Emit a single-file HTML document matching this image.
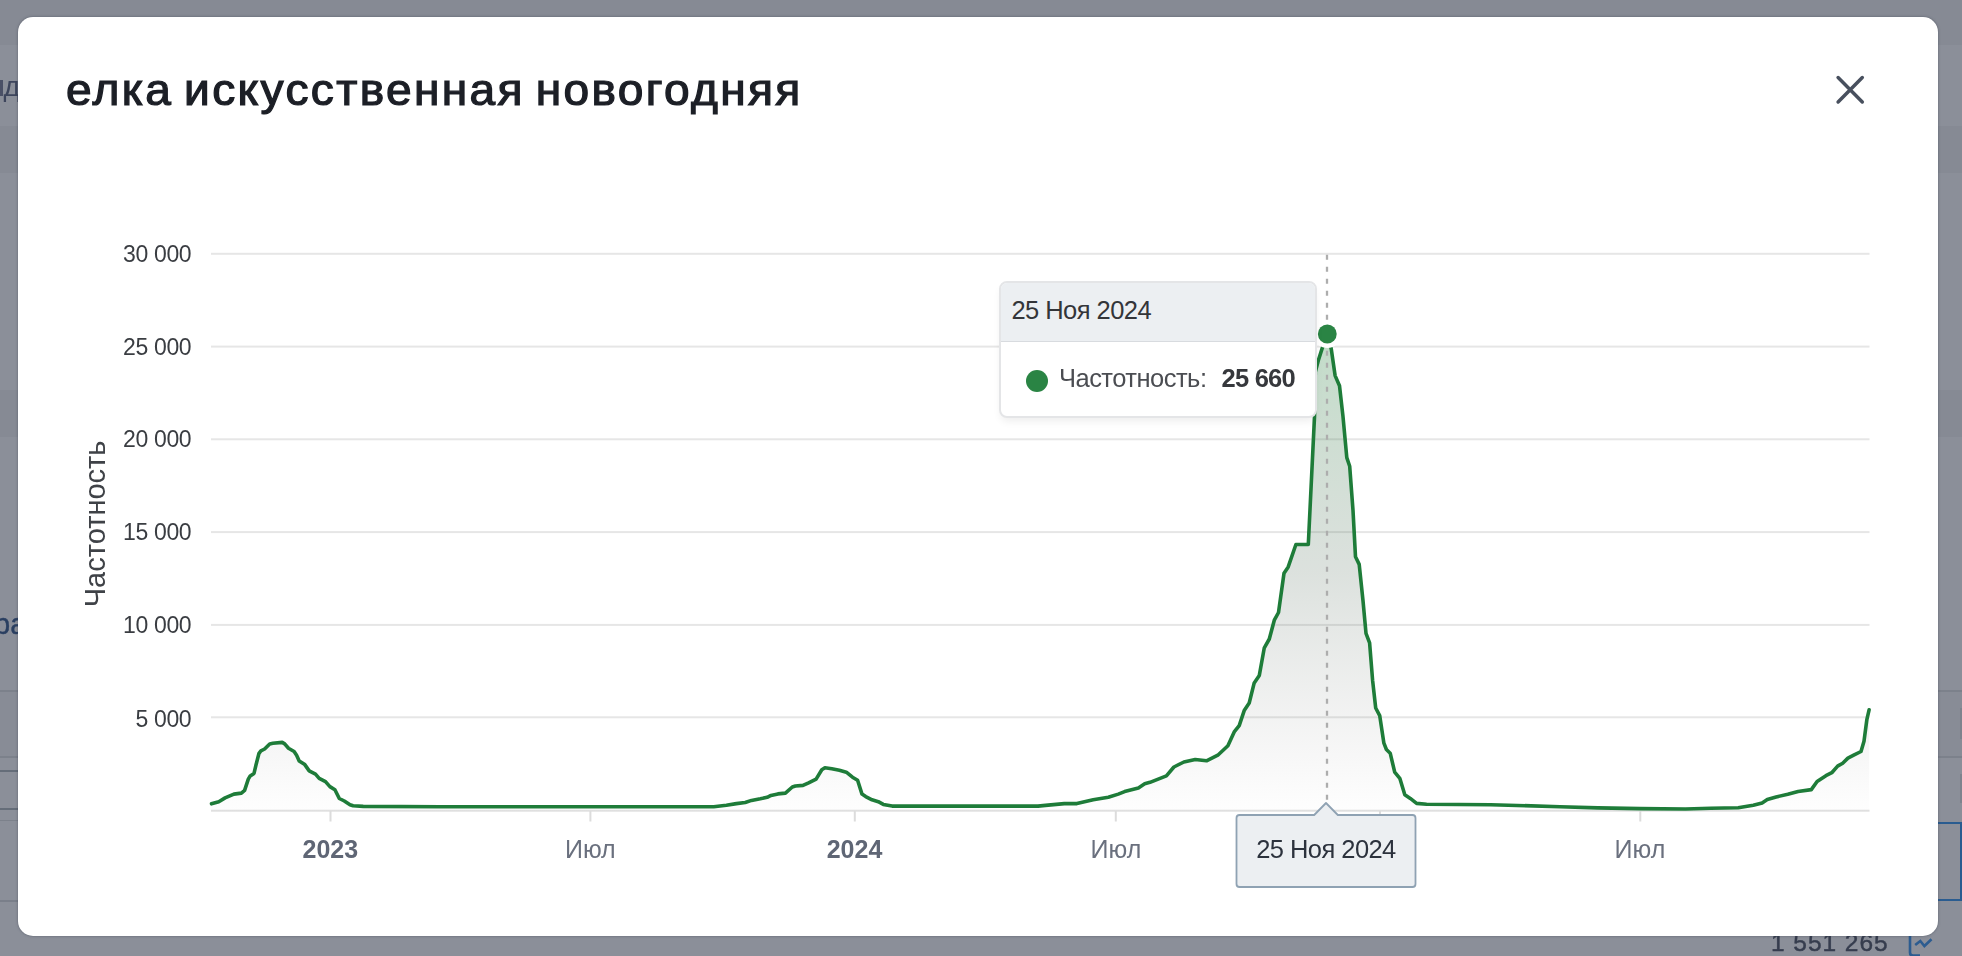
<!DOCTYPE html>
<html lang="ru"><head><meta charset="utf-8"><title>chart</title>
<style>
html,body{margin:0;padding:0;background:#8b8f99}
body{width:1962px;height:956px;overflow:hidden;position:relative;background:#8b8f99;font-family:"Liberation Sans",sans-serif}
.bg{position:absolute;left:0;width:1962px}
.modal{position:absolute;left:17.7px;top:17.4px;width:1920.3px;height:918.8px;background:#fff;border-radius:15px;box-shadow:0 0 2.5px rgba(45,52,70,.55)}
.title{position:absolute;left:65.6px;top:62.0px;font-size:43.5px;line-height:56px;color:#1c1f26;white-space:nowrap;font-weight:normal;-webkit-text-stroke:1.2px #1c1f26;letter-spacing:2.2px;word-spacing:-4.0px;transform-origin:0 0;transform:scaleX(1.06)}
svg.chart{position:absolute;left:0;top:0}
.yl{font-size:23px;letter-spacing:-0.35px;fill:#3a3d42;font-family:"Liberation Sans",sans-serif}
.xl{font-size:25px;fill:#6a707e;font-family:"Liberation Sans",sans-serif}
.xl.b{font-weight:bold;fill:#5f6675}
.tt{position:absolute;left:999px;top:280.5px;width:318px;height:137.2px;background:#fff;border:2px solid #e4e5e7;border-radius:8px;box-sizing:border-box;box-shadow:0 5px 8px -2px rgba(0,0,0,.075);overflow:hidden}
.tt .h{height:59.5px;background:#eceff2;border-bottom:1.5px solid #d8dbdf;box-sizing:border-box;font-size:25.5px;color:#333539;line-height:54px;padding-left:10.5px;letter-spacing:-0.56px}
.tt .b{position:relative;height:75px}
.tt .dot{position:absolute;left:24.6px;top:28.2px;width:22px;height:22px;border-radius:50%;background:#2a8444}
.tt .n{position:absolute;left:58px;top:21px;font-size:25.5px;line-height:30px;color:#4b4d52;white-space:nowrap;letter-spacing:-0.52px}
.tt .v{position:absolute;left:220.6px;top:21px;font-size:25.5px;line-height:30px;color:#36383c;font-weight:bold;white-space:nowrap;letter-spacing:-0.8px}
#w{position:absolute;left:0;top:0;width:1962px;height:956px;overflow:hidden;filter:blur(0.65px)}
</style></head><body><div id="w">
<!-- backdrop bands -->
<div class="bg" style="top:0;height:45.2px;background:#868a94"></div>
<div class="bg" style="top:125.7px;height:47.6px;background:#868a94"></div>
<div class="bg" style="top:389.5px;height:47.5px;background:#868a94"></div>
<div class="bg" style="top:691px;height:66px;background:#888c96"></div>
<div class="bg" style="top:690.2px;height:1.6px;background:#7c818b"></div>
<div class="bg" style="top:756.2px;height:1.6px;background:#7c818b"></div>
<div class="bg" style="top:769.7px;height:2.2px;background:#656d79;width:20px"></div>
<div class="bg" style="top:807.9px;height:2.2px;background:#656d79;width:20px"></div>
<div class="bg" style="top:819.7px;height:1.6px;background:#7c818b;width:20px"></div>
<div class="bg" style="top:900px;height:1.8px;background:#7a7f8a;width:20px"></div>
<div style="position:absolute;left:0;top:80px;width:2.5px;height:15.5px;background:#4a5066"></div>
<div style="position:absolute;left:3.6px;top:70.7px;font-size:28.5px;color:#3d455c;line-height:30px">д</div>
<div style="position:absolute;left:-6px;top:608.8px;font-size:29px;color:#2a3f61;-webkit-text-stroke:0.4px #2a3f61;line-height:30px;white-space:nowrap">ра</div>
<div style="position:absolute;left:1930px;top:821.6px;width:32px;height:79px;border:2.7px solid #2a5c90;box-sizing:border-box"></div>
<div style="position:absolute;left:1959.5px;top:708px;width:3px;height:31px;background:#7e838d"></div>
<div style="position:absolute;left:1959.5px;top:774px;width:3px;height:29px;background:#7e838d"></div>
<div style="position:absolute;left:1771px;top:928px;font-size:24.5px;color:#363d4e;-webkit-text-stroke:0.45px #363d4e;line-height:30px;white-space:nowrap;letter-spacing:0.95px">1 551 265</div>
<svg style="position:absolute;left:1906px;top:930px" width="32" height="26" viewBox="0 0 32 26"><path d="M4 0 V22.5 Q4 25.6 7 25.6 H14" fill="none" stroke="#2c5c90" stroke-width="2.6"/><path d="M9.2 15 L14.3 11 L18.4 16 L25.5 9.2" fill="none" stroke="#2c5c90" stroke-width="2.6"/></svg>

<div class="modal"></div>
<div class="title">елка искусственная новогодняя</div>
<svg class="chart" width="1962" height="956" viewBox="0 0 1962 956">
<defs>
<linearGradient id="ag" gradientUnits="userSpaceOnUse" x1="0" y1="334" x2="0" y2="810">
<stop offset="0" stop-color="#1b7c34" stop-opacity="0.27"/>
<stop offset="0.5" stop-color="#506a57" stop-opacity="0.20"/>
<stop offset="0.9" stop-color="#707070" stop-opacity="0.05"/>
<stop offset="1" stop-color="#808080" stop-opacity="0.01"/>
</linearGradient>
</defs>
<!-- close -->
<path d="M1838.1 77.6 L1862.3 101.9 M1862.3 77.6 L1838.1 101.9" stroke="#48505e" stroke-width="3.5" stroke-linecap="round" fill="none"/>
<rect x="211" y="252.8" width="1658.5" height="2" fill="#e6e6e6"/><rect x="211" y="345.6" width="1658.5" height="2" fill="#e6e6e6"/><rect x="211" y="438.3" width="1658.5" height="2" fill="#e6e6e6"/><rect x="211" y="531.1" width="1658.5" height="2" fill="#e6e6e6"/><rect x="211" y="623.9" width="1658.5" height="2" fill="#e6e6e6"/><rect x="211" y="716.3" width="1658.5" height="2" fill="#e6e6e6"/>
<rect x="211" y="809.7" width="1658.5" height="2" fill="#e0e0e0"/>
<rect x="329.5" y="811" width="2" height="10.5" fill="#dcdcdc"/><rect x="589.4" y="811" width="2" height="10.5" fill="#dcdcdc"/><rect x="853.8" y="811" width="2" height="10.5" fill="#dcdcdc"/><rect x="1114.8" y="811" width="2" height="10.5" fill="#dcdcdc"/><rect x="1379.0" y="811" width="2" height="10.5" fill="#dcdcdc"/><rect x="1639.3" y="811" width="2" height="10.5" fill="#dcdcdc"/>
<text x="191.3" y="261.7" text-anchor="end" class="yl">30 000</text><text x="191.3" y="354.5" text-anchor="end" class="yl">25 000</text><text x="191.3" y="447.2" text-anchor="end" class="yl">20 000</text><text x="191.3" y="540.0" text-anchor="end" class="yl">15 000</text><text x="191.3" y="632.8" text-anchor="end" class="yl">10 000</text><text x="191.3" y="726.5" text-anchor="end" class="yl">5 000</text>
<text transform="translate(105.4 523.9) rotate(-90)" text-anchor="middle" style="font-size:29px;fill:#3f4247;font-family:'Liberation Sans',sans-serif">Частотность</text>
<text x="330.3" y="858" text-anchor="middle" class="xl b">2023</text><text x="590.3" y="858" text-anchor="middle" class="xl">Июл</text><text x="854.5" y="858" text-anchor="middle" class="xl b">2024</text><text x="1116" y="858" text-anchor="middle" class="xl">Июл</text><text x="1640" y="858" text-anchor="middle" class="xl">Июл</text>
<path d="M211.5 803.8 L218.8 801.7 L225.1 797.9 L233.9 794.1 L241.4 793.1 L244.6 790.4 L248.3 779.1 L250.2 775.9 L254.0 773.4 L255.9 765.3 L259.0 753.3 L260.9 750.8 L264.6 749.0 L269.7 743.9 L272.8 743.3 L282.2 742.4 L284.7 743.9 L288.5 748.3 L294.1 751.5 L296.6 755.2 L299.2 760.9 L304.8 764.6 L309.2 770.9 L315.5 774.1 L319.2 778.4 L325.5 781.6 L329.9 786.6 L334.9 789.7 L339.3 798.5 L344.3 801.0 L350.0 804.8 L353.1 805.8 L363.2 806.4 L440.0 806.7 L690.0 806.7 L713.8 806.7 L726.4 805.2 L736.4 803.6 L745.2 802.5 L751.5 800.4 L760.3 798.8 L767.2 797.3 L771.0 795.4 L777.9 793.9 L785.4 793.1 L792.3 787.0 L795.4 786.0 L803.0 785.4 L808.6 782.8 L816.1 779.1 L821.8 769.7 L824.9 767.8 L831.8 768.8 L839.4 770.3 L846.3 772.2 L852.5 777.2 L857.6 780.3 L862.0 794.1 L865.7 796.6 L872.0 799.8 L878.3 801.7 L883.3 804.4 L892.1 806.1 L930.0 806.1 L1038.0 806.1 L1045.5 805.4 L1064.3 803.6 L1076.9 803.6 L1093.2 799.8 L1108.3 797.3 L1118.3 794.1 L1124.6 791.6 L1138.4 787.9 L1144.7 783.8 L1150.0 782.3 L1166.4 775.8 L1173.9 767.0 L1183.9 762.0 L1195.2 759.5 L1206.5 760.8 L1217.8 755.2 L1227.9 745.7 L1234.2 731.9 L1239.2 725.6 L1244.2 710.6 L1249.2 703.0 L1254.2 682.9 L1259.3 675.4 L1264.3 647.8 L1269.3 639.0 L1274.3 620.2 L1278.5 612.5 L1284.0 573.2 L1288.2 566.9 L1295.9 544.5 L1308.3 544.5 L1314.5 416.7 L1315.3 372.0 L1318.3 360.5 L1322.0 348.9 L1327.3 334.0 L1331.3 349.3 L1335.1 375.6 L1339.5 385.8 L1343.0 416.6 L1346.8 457.6 L1349.7 466.3 L1353.0 510.4 L1355.5 556.8 L1359.2 564.4 L1363.0 600.8 L1366.0 633.4 L1369.6 642.8 L1372.6 680.4 L1375.7 708.0 L1379.7 715.6 L1383.9 743.2 L1386.4 749.5 L1390.2 753.2 L1394.7 772.1 L1399.8 778.3 L1404.8 794.7 L1410.3 798.4 L1416.6 803.4 L1426.6 804.2 L1490.6 804.7 L1560.0 806.7 L1597.7 807.9 L1640.3 808.6 L1685.5 809.0 L1710.6 808.2 L1738.2 807.7 L1753.3 805.2 L1762.1 802.9 L1767.3 799.5 L1776.1 796.9 L1787.8 794.3 L1798.1 791.5 L1811.3 789.6 L1817.1 781.5 L1825.9 775.7 L1831.8 772.7 L1837.6 766.1 L1842.7 763.2 L1847.9 758.1 L1853.7 755.2 L1861.0 751.5 L1864.0 741.3 L1866.9 719.3 L1869.1 709.8 L1869.1 810.5 L211.5 810.5 Z" fill="url(#ag)" stroke="none"/>
<path d="M211.5 803.8 L218.8 801.7 L225.1 797.9 L233.9 794.1 L241.4 793.1 L244.6 790.4 L248.3 779.1 L250.2 775.9 L254.0 773.4 L255.9 765.3 L259.0 753.3 L260.9 750.8 L264.6 749.0 L269.7 743.9 L272.8 743.3 L282.2 742.4 L284.7 743.9 L288.5 748.3 L294.1 751.5 L296.6 755.2 L299.2 760.9 L304.8 764.6 L309.2 770.9 L315.5 774.1 L319.2 778.4 L325.5 781.6 L329.9 786.6 L334.9 789.7 L339.3 798.5 L344.3 801.0 L350.0 804.8 L353.1 805.8 L363.2 806.4 L440.0 806.7 L690.0 806.7 L713.8 806.7 L726.4 805.2 L736.4 803.6 L745.2 802.5 L751.5 800.4 L760.3 798.8 L767.2 797.3 L771.0 795.4 L777.9 793.9 L785.4 793.1 L792.3 787.0 L795.4 786.0 L803.0 785.4 L808.6 782.8 L816.1 779.1 L821.8 769.7 L824.9 767.8 L831.8 768.8 L839.4 770.3 L846.3 772.2 L852.5 777.2 L857.6 780.3 L862.0 794.1 L865.7 796.6 L872.0 799.8 L878.3 801.7 L883.3 804.4 L892.1 806.1 L930.0 806.1 L1038.0 806.1 L1045.5 805.4 L1064.3 803.6 L1076.9 803.6 L1093.2 799.8 L1108.3 797.3 L1118.3 794.1 L1124.6 791.6 L1138.4 787.9 L1144.7 783.8 L1150.0 782.3 L1166.4 775.8 L1173.9 767.0 L1183.9 762.0 L1195.2 759.5 L1206.5 760.8 L1217.8 755.2 L1227.9 745.7 L1234.2 731.9 L1239.2 725.6 L1244.2 710.6 L1249.2 703.0 L1254.2 682.9 L1259.3 675.4 L1264.3 647.8 L1269.3 639.0 L1274.3 620.2 L1278.5 612.5 L1284.0 573.2 L1288.2 566.9 L1295.9 544.5 L1308.3 544.5 L1314.5 416.7 L1315.3 372.0 L1318.3 360.5 L1322.0 348.9 L1327.3 334.0 L1331.3 349.3 L1335.1 375.6 L1339.5 385.8 L1343.0 416.6 L1346.8 457.6 L1349.7 466.3 L1353.0 510.4 L1355.5 556.8 L1359.2 564.4 L1363.0 600.8 L1366.0 633.4 L1369.6 642.8 L1372.6 680.4 L1375.7 708.0 L1379.7 715.6 L1383.9 743.2 L1386.4 749.5 L1390.2 753.2 L1394.7 772.1 L1399.8 778.3 L1404.8 794.7 L1410.3 798.4 L1416.6 803.4 L1426.6 804.2 L1490.6 804.7 L1560.0 806.7 L1597.7 807.9 L1640.3 808.6 L1685.5 809.0 L1710.6 808.2 L1738.2 807.7 L1753.3 805.2 L1762.1 802.9 L1767.3 799.5 L1776.1 796.9 L1787.8 794.3 L1798.1 791.5 L1811.3 789.6 L1817.1 781.5 L1825.9 775.7 L1831.8 772.7 L1837.6 766.1 L1842.7 763.2 L1847.9 758.1 L1853.7 755.2 L1861.0 751.5 L1864.0 741.3 L1866.9 719.3 L1869.1 709.8" fill="none" stroke="#1e7c39" stroke-width="3.6" stroke-linejoin="round" stroke-linecap="round"/>
<path d="M1327 254.8 V800" stroke="#adadad" stroke-width="2.3" stroke-dasharray="5 7" fill="none"/>
<circle cx="1327.3" cy="334" r="14" fill="#fff"/>
<circle cx="1327.3" cy="334" r="9.4" fill="#2a8444"/>
<!-- x crosshair label -->
<path d="M1239.5 815 H1314.2 L1326 803 L1337.8 815 H1412.5 Q1415.5 815 1415.5 818 V884 Q1415.5 887 1412.5 887 H1239.5 Q1236.5 887 1236.5 884 V818 Q1236.5 815 1239.5 815 Z" fill="#eceff2" stroke="#8fa2b3" stroke-width="1.8" stroke-linejoin="round"/>
<text x="1326" y="858.2" text-anchor="middle" style="font-size:25.5px;letter-spacing:-0.56px;fill:#2c323d;font-family:'Liberation Sans',sans-serif">25 Ноя 2024</text>
</svg>
<div class="tt"><div class="h">25 Ноя 2024</div><div class="b"><div class="dot"></div><div class="n">Частотность:</div><div class="v">25 660</div></div></div>
</div></body></html>
